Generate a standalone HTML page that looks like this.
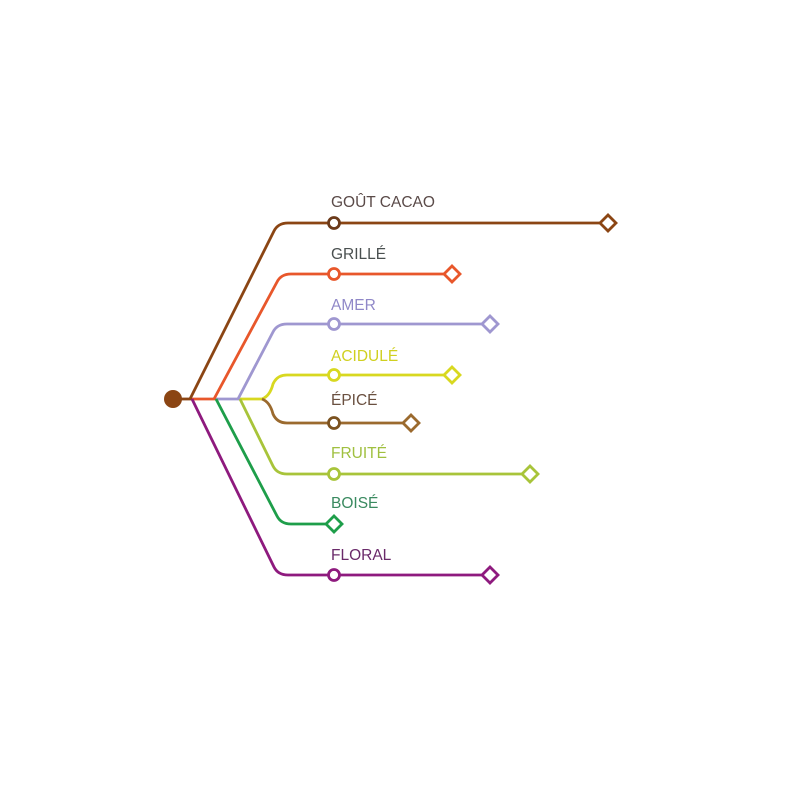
<!DOCTYPE html>
<html><head><style>body{margin:0;background:#fff}svg text{font-family:"Liberation Sans","DejaVu Sans",sans-serif;font-size:15.5px}</style></head>
<body>
<svg width="800" height="800" viewBox="0 0 800 800" xmlns="http://www.w3.org/2000/svg" fill="none" stroke-width="2.8">
<path d="M180 399 H192" stroke="#8B4513"/>
<path d="M192 399 H216" stroke="#E8572B"/>
<path d="M216 399 H240" stroke="#9F97D0"/>
<path d="M240 399 H264" stroke="#D8D820"/>
<path d="M190 399 L274 231 Q278 223 288 223 H600" stroke="#8B4513"/>
<path d="M214 399 L277 282 Q281 274 291 274 H445" stroke="#E8572B"/>
<path d="M238 399 L273 332 Q277 324 287 324 H483" stroke="#9F97D0"/>
<path d="M262 399 Q270 396 273 384 Q277 375 287 375 H445" stroke="#D8D820"/>
<path d="M262 399 Q270 402 273 414 Q277 423 287 423 H404" stroke="#9B6A2E"/>
<path d="M240 399 L273 466 Q277 474 287 474 H523" stroke="#A8C43A"/>
<path d="M216 399 L277 516 Q281 524 291 524 H326" stroke="#1E9E4A"/>
<path d="M192 399 L274 567 Q278 575 288 575 H483" stroke="#8E1A7E"/>
<circle cx="173" cy="399" r="9" fill="#8B4513"/>
<g fill="#fff">
<circle cx="334" cy="223" r="5.5" stroke="#6B3A1A"/>
<circle cx="334" cy="274" r="5.5" stroke="#E8572B"/>
<circle cx="334" cy="324" r="5.5" stroke="#9F97D0"/>
<circle cx="334" cy="375" r="5.5" stroke="#D8D820"/>
<circle cx="334" cy="423" r="5.5" stroke="#7B5220"/>
<circle cx="334" cy="474" r="5.5" stroke="#A8C43A"/>
<circle cx="334" cy="575" r="5.5" stroke="#8E1A7E"/>
<path d="M600 223 l8 -8 l8 8 l-8 8 z" stroke="#8B4513"/>
<path d="M444 274 l8 -8 l8 8 l-8 8 z" stroke="#E8572B"/>
<path d="M482 324 l8 -8 l8 8 l-8 8 z" stroke="#9F97D0"/>
<path d="M444 375 l8 -8 l8 8 l-8 8 z" stroke="#D8D820"/>
<path d="M403 423 l8 -8 l8 8 l-8 8 z" stroke="#9B6A2E"/>
<path d="M522 474 l8 -8 l8 8 l-8 8 z" stroke="#A8C43A"/>
<path d="M326 524 l8 -8 l8 8 l-8 8 z" stroke="#1E9E4A"/>
<path d="M482 575 l8 -8 l8 8 l-8 8 z" stroke="#8E1A7E"/>
</g>
<g stroke="none">
<text x="331" y="207" fill="#5a4a48">GOÛT CACAO</text>
<text x="331" y="259" fill="#4a5050">GRILLÉ</text>
<text x="331" y="310" fill="#9088c8">AMER</text>
<text x="331" y="361" fill="#d0d020">ACIDULÉ</text>
<text x="331" y="405" fill="#6a5040">ÉPICÉ</text>
<text x="331" y="458" fill="#a0c040">FRUITÉ</text>
<text x="331" y="508" fill="#3a8a60">BOISÉ</text>
<text x="331" y="560" fill="#6a2a6a">FLORAL</text>
</g>
</svg>
</body></html>
